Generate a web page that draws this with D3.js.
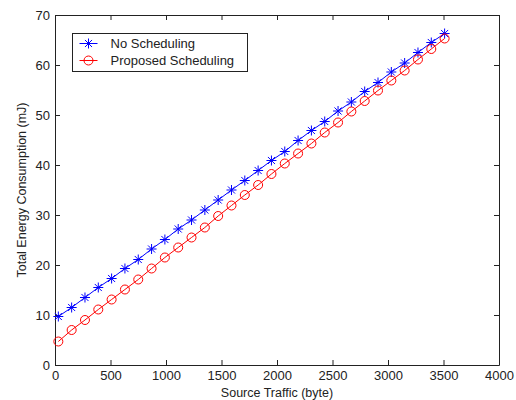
<!DOCTYPE html>
<html>
<head>
<meta charset="utf-8">
<script src="https://cdn.jsdelivr.net/npm/d3@7"></script>
<style>
body { margin: 0; background: #fff; }
text { font-family: "Liberation Sans", Arial, sans-serif; }
</style>
</head>
<body>
<div id="myGraph"></div>
<script>
// source traffic (byte)
var traffic = [30, 150, 270, 390, 510, 630, 750, 870, 990, 1110,
               1230, 1350, 1470, 1590, 1710, 1830, 1950, 2070, 2190, 2310,
               2430, 2550, 2670, 2790, 2910, 3030, 3150, 3270, 3390, 3510];
// energy (mJ)
var noSched = [9.7, 11.5, 13.5, 15.5, 17.3, 19.3, 21.1, 23.2, 25.1, 27.2,
               29.0, 31.0, 33.0, 35.0, 36.9, 38.9, 40.9, 42.7, 44.9, 46.9,
               48.7, 50.8, 52.6, 54.7, 56.5, 58.6, 60.4, 62.5, 64.5, 66.3];
var proposed = [4.7, 7.0, 9.0, 11.1, 13.1, 15.1, 17.1, 19.3, 21.5, 23.5,
                25.5, 27.5, 29.8, 31.9, 34.0, 36.0, 38.2, 40.3, 42.3, 44.3,
                46.5, 48.5, 50.7, 52.8, 54.9, 56.9, 58.9, 61.1, 63.2, 65.3];
var xTicks = [0, 500, 1000, 1500, 2000, 2500, 3000, 3500, 4000];
var yTicks = [0, 10, 20, 30, 40, 50, 60, 70];
var seriesNames = ["No Scheduling", "Proposed Scheduling"];

var width = 516, height = 400;
var margin = {top: 15, right: 17, bottom: 35, left: 55};
var w = width - margin.left - margin.right,
    h = height - margin.top - margin.bottom;

var x = d3.scaleLinear().domain([0, 4000]).range([0, w]);
var y = d3.scaleLinear().domain([0, 70]).range([h, 0]);

var svg = d3.select("#myGraph").append("svg")
    .attr("width", width)
    .attr("height", height);
var g = svg.append("g")
    .attr("transform", "translate(" + margin.left + "," + margin.top + ")");

// axes (ticks point inward, box on all sides)
function styleAxis(sel) {
    sel.selectAll("path").attr("stroke", "#222");
    sel.selectAll("line").attr("stroke", "#222");
    sel.selectAll("text").attr("fill", "#222").style("font-size", "13px");
}
g.append("g").attr("transform", "translate(0," + h + ")")
    .call(d3.axisBottom(x).tickValues(xTicks).tickFormat(d3.format("d"))
        .tickSize(-5).tickSizeOuter(0).tickPadding(6))
    .call(styleAxis);
g.append("g")
    .call(d3.axisLeft(y).tickValues(yTicks).tickSize(-5).tickSizeOuter(0).tickPadding(5))
    .call(styleAxis);
g.append("g")
    .call(d3.axisTop(x).tickValues(xTicks).tickSize(-5).tickSizeOuter(0).tickFormat(""))
    .call(styleAxis);
g.append("g").attr("transform", "translate(" + w + ",0)")
    .call(d3.axisRight(y).tickValues(yTicks).tickSize(-5).tickSizeOuter(0).tickFormat(""))
    .call(styleAxis);

// labels
svg.append("text")
    .attr("x", margin.left + w / 2).attr("y", 397)
    .attr("text-anchor", "middle")
    .style("font-size", "12.5px").attr("fill", "#222")
    .text("Source Traffic (byte)");
svg.append("text")
    .attr("transform", "translate(26," + (margin.top + h / 2) + ") rotate(-90)")
    .attr("text-anchor", "middle")
    .style("font-size", "12.5px").attr("fill", "#222")
    .text("Total Energy Consumption (mJ)");

var line = d3.line()
    .x(function(d, i) { return x(traffic[i]); })
    .y(function(d) { return y(d); });

// star marker path (asterisk: + and x)
function starPath(s) {
    var d = s * 0.707;
    return "M" + (-s) + ",0L" + s + ",0M0," + (-s) + "L0," + s +
           "M" + (-d) + "," + (-d) + "L" + d + "," + d +
           "M" + (-d) + "," + d + "L" + d + "," + (-d);
}

// No Scheduling
g.append("path").datum(noSched)
    .attr("d", line).attr("fill", "none").attr("stroke", "#0000ff").attr("stroke-width", 1);
g.selectAll(".star").data(noSched).enter().append("path")
    .attr("class", "star")
    .attr("transform", function(d, i) { return "translate(" + x(traffic[i]) + "," + y(d) + ")"; })
    .attr("d", starPath(5))
    .attr("stroke", "#0000ff").attr("stroke-width", 1).attr("fill", "none");

// Proposed Scheduling
g.append("path").datum(proposed)
    .attr("d", line).attr("fill", "none").attr("stroke", "#ff0000").attr("stroke-width", 1);
g.selectAll(".circ").data(proposed).enter().append("circle")
    .attr("class", "circ")
    .attr("cx", function(d, i) { return x(traffic[i]); })
    .attr("cy", function(d) { return y(d); })
    .attr("r", 4.5)
    .attr("stroke", "#ff0000").attr("stroke-width", 1).attr("fill", "none");

// legend
var lg = svg.append("g").attr("transform", "translate(72.5,33.5)");
lg.append("rect").attr("width", 175).attr("height", 38)
    .attr("fill", "#fff").attr("stroke", "#222").attr("stroke-width", 1);
seriesNames.forEach(function(name, i) {
    var yy = 10 + i * 17;
    var col = i === 0 ? "#0000ff" : "#ff0000";
    lg.append("line").attr("x1", 7).attr("x2", 25).attr("y1", yy).attr("y2", yy)
        .attr("stroke", col);
    if (i === 0) {
        lg.append("path").attr("transform", "translate(16," + yy + ")")
            .attr("d", starPath(5)).attr("stroke", col).attr("stroke-width", 1).attr("fill", "none");
    } else {
        lg.append("circle").attr("cx", 16).attr("cy", yy).attr("r", 4.5)
            .attr("stroke", col).attr("fill", "none");
    }
    lg.append("text").attr("x", 38).attr("y", yy + 4.5)
        .style("font-size", "13px").attr("fill", "#222")
        .text(name);
});
</script>
</body>
</html>
